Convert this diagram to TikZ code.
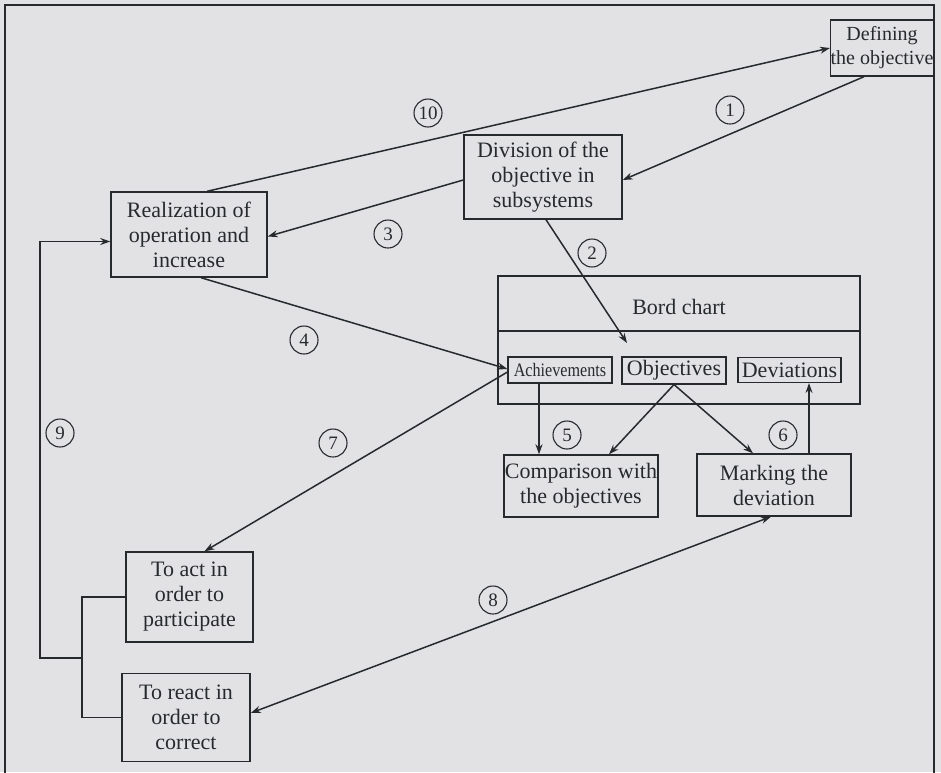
\documentclass[tikz,border=0pt]{standalone}
\usepackage{fontspec}
\setmainfont{Liberation Serif}
\usetikzlibrary{arrows.meta,calc}
\definecolor{paper}{RGB}{226,226,229}
\definecolor{ink}{RGB}{38,42,44}

\begin{document}
\begin{tikzpicture}[x=1pt,y=-1pt,
  every node/.style={text=ink},
  box/.style={draw=ink, line width=1.4pt, align=center, inner sep=0pt,
    font=\fontsize{22}{25}\selectfont},
  tag/.style={draw=ink, line width=1.1pt, align=center, inner sep=0pt,
    font=\fontsize{22}{25}\selectfont},
  num/.style={circle, draw=ink, line width=1.1pt, inner sep=0pt,
    minimum size=28pt, font=\fontsize{19}{19}\selectfont},
  link/.style={draw=ink, line width=1.5pt},
  arr/.style={link, -{Stealth[length=10pt,width=7pt]}},
  darr/.style={link, {Stealth[length=10pt,width=7pt]}-{Stealth[length=10pt,width=7pt]}}]

% page and frame
\useasboundingbox[fill=paper] (0,0) rectangle (941,772);
\draw[ink, line width=1.8pt] (5,5) rectangle (934,800);

% main boxes
\node[box, minimum width=102pt, minimum height=56pt, font=\fontsize{20}{24}\selectfont]
  (def) at (882,48) {Defining\\the objective};
\node[box, minimum width=158pt, minimum height=84pt]
  (div) at (543,177) {Division of the\\objective in\\subsystems};
\node[box, minimum width=156pt, minimum height=85pt]
  (real) at (189,234.5) {Realization of\\operation and\\increase};

% board chart with its three entries
\node[draw=ink, line width=1.4pt, minimum width=362pt, minimum height=128pt]
  (bord) at (679,340) {};
\node[font=\fontsize{22}{25}\selectfont] (bordt) at (679,307) {Bord chart};
\coordinate (dl) at (498,331);
\coordinate (dr) at (860,331);
\draw[link] (dl) -- (dr);
\node[tag, minimum width=104pt, minimum height=26pt, font=\fontsize{19}{22}\selectfont]
  (ach) at (560,370) {\scalebox{0.85}[1]{Achievements}};
\node[tag, minimum width=104pt, minimum height=27pt]
  (obj) at (674,370.5) {Objectives};
\node[tag, minimum width=103pt, minimum height=25pt]
  (dev) at (789.5,370) {Deviations};

\node[box, minimum width=154pt, minimum height=62pt]
  (comp) at (581,486) {Comparison with\\the objectives};
\node[box, minimum width=154pt, minimum height=62pt]
  (mark) at (774,485) {Marking the\\deviation};
\node[box, minimum width=127pt, minimum height=90pt]
  (act) at (189.5,597) {To act in\\order to\\participate};
\node[box, minimum width=128pt, minimum height=88pt]
  (react) at (186,717.5) {To react in\\order to\\correct};

% connectors
\draw[arr] ([xshift=-18pt]def.south) -- ([yshift=-3pt]div.east);
\draw[arr] ([xshift=18pt]real.north) -- (def.west);
\draw[arr] ([yshift=-3pt]div.west) -- ([yshift=-2pt]real.east);
\coordinate (bordin) at (627,343);
\draw[arr] ([xshift=3pt]div.south) -- (bordin);
\draw[arr] ([xshift=12pt]real.south) -- ([yshift=1pt]ach.west);
\draw[arr] ([yshift=-2pt]ach.west) -- ([xshift=15pt]act.north);
\draw[arr] ([xshift=-21pt]ach.south) -- ([xshift=-42pt]comp.north);
\draw[arr] (obj.south) -- ([xshift=28pt]comp.north);
\draw[arr] (obj.south) -- ([xshift=-21pt]mark.north);
\draw[arr] ([xshift=35pt]mark.north) -- ([xshift=19.5pt]dev.south);
\draw[darr] ([yshift=4.5pt]react.east) -- ([xshift=-3pt]mark.south);

% bracket joining the two reactions and the feedback loop
\coordinate (brk) at (82,658);
\coordinate (lp) at (40,658);
\draw[link] (act.west) -| (brk) |- (react.west);
\draw[arr] (brk) -- (lp) |- ([yshift=-7pt]real.west);

% step numbers
\node[num] (n1) at (730,110) {1};
\node[num] (n10) at (428,113) {10};
\node[num] (n2) at (592,253) {2};
\node[num] (n3) at (388,234) {3};
\node[num] (n4) at (304,340) {4};
\node[num] (n5) at (567,435) {5};
\node[num] (n6) at (783,435) {6};
\node[num] (n7) at (333,443) {7};
\node[num] (n8) at (493,600) {8};
\node[num] (n9) at (60,433) {9};
\end{tikzpicture}
\end{document}
